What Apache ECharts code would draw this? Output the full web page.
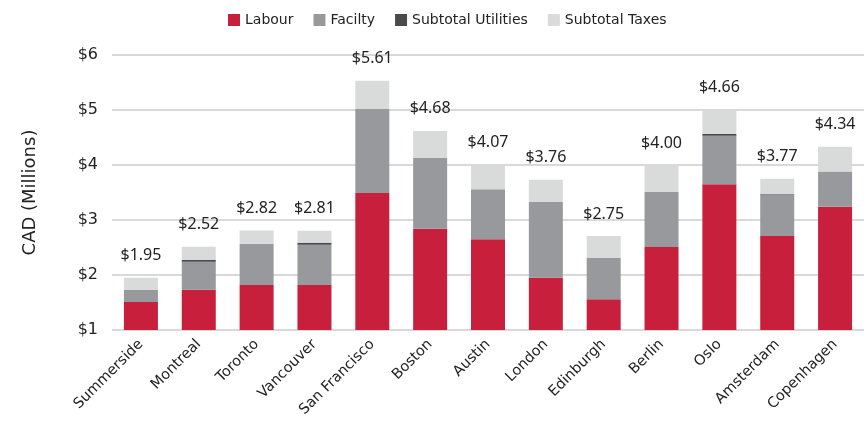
<!DOCTYPE html>
<html><head><meta charset="utf-8">
<script src="https://cdn.jsdelivr.net/npm/echarts@6/dist/echarts.min.js"></script>
<style>html,body{margin:0;padding:0;background:#fff}#c{width:867px;height:424px}</style>
</head><body><div id="c"></div>
<script>
const categories = ['Summerside','Montreal','Toronto','Vancouver','San Francisco','Boston','Austin','London','Edinburgh','Berlin','Oslo','Amsterdam','Copenhagen'];
const labour    = [1.51, 1.73, 1.82, 1.82, 3.49, 2.84, 2.65, 1.95, 1.56, 2.51, 3.65, 2.71, 3.24];
const facility  = [0.22, 0.51, 0.75, 0.73, 1.53, 1.29, 0.91, 1.38, 0.75, 1.00, 0.88, 0.74, 0.64];
const utilities = [0.00, 0.035, 0.00, 0.035, 0.00, 0.00, 0.00, 0.00, 0.00, 0.00, 0.035, 0.02, 0.00];
const taxes     = [0.22, 0.24, 0.24, 0.22, 0.51, 0.49, 0.45, 0.40, 0.40, 0.49, 0.44, 0.28, 0.45];
const totals    = ['$1.95','$2.52','$2.82','$2.81','$5.61','$4.68','$4.07','$3.76','$2.75','$4.00','$4.66','$3.77','$4.34'];
const yTicks    = [1, 2, 3, 4, 5, 6];

const FONT = 'DejaVu Sans';
const chart = echarts.init(document.getElementById('c'));
const base = {type:'bar', stack:'total', barWidth:34, emphasis:{disabled:true}};
chart.setOption({
  animation:false,
  textStyle:{fontFamily:FONT},
  legend:{
    top:8, left:223, itemWidth:12, itemHeight:12, itemGap:20,
    icon:'rect',
    textStyle:{fontFamily:FONT, fontSize:14, color:'#222'},
    data:['Labour','Facilty','Subtotal Utilities','Subtotal Taxes']
  },
  grid:{left:112, right:3, top:55, bottom:94},
  xAxis:{
    type:'category', data:categories,
    axisLine:{show:false}, axisTick:{show:false},
    axisLabel:{rotate:45, interval:0, margin:12, fontFamily:FONT, fontSize:14.5, color:'#222'}
  },
  yAxis:{
    type:'value', min:yTicks[0], max:yTicks[yTicks.length-1], interval:1,
    name:'CAD (Millions)', nameLocation:'middle', nameGap:73, nameRotate:90,
    nameTextStyle:{fontFamily:FONT, fontSize:18, color:'#222'},
    axisLabel:{formatter:v=>'$'+v, margin:14, fontFamily:FONT, fontSize:16, color:'#222'},
    splitLine:{lineStyle:{color:'#cccccc', width:1.5}},
    axisLine:{show:false}, axisTick:{show:false}
  },
  series:[
    Object.assign({}, base, {name:'Labour', data:labour, itemStyle:{color:'#C8203C'}}),
    Object.assign({}, base, {name:'Facilty', data:facility, itemStyle:{color:'#98999D'}}),
    Object.assign({}, base, {name:'Subtotal Utilities', data:utilities, itemStyle:{color:'#4A4A4C'}}),
    Object.assign({}, base, {name:'Subtotal Taxes', data:taxes, itemStyle:{color:'#D9DADA'},
      label:{show:true, position:'top', distance:14, fontFamily:'Noto Sans', fontSize:16, color:'#222',
        formatter:p=>totals[p.dataIndex]}})
  ]
});
</script></body></html>
